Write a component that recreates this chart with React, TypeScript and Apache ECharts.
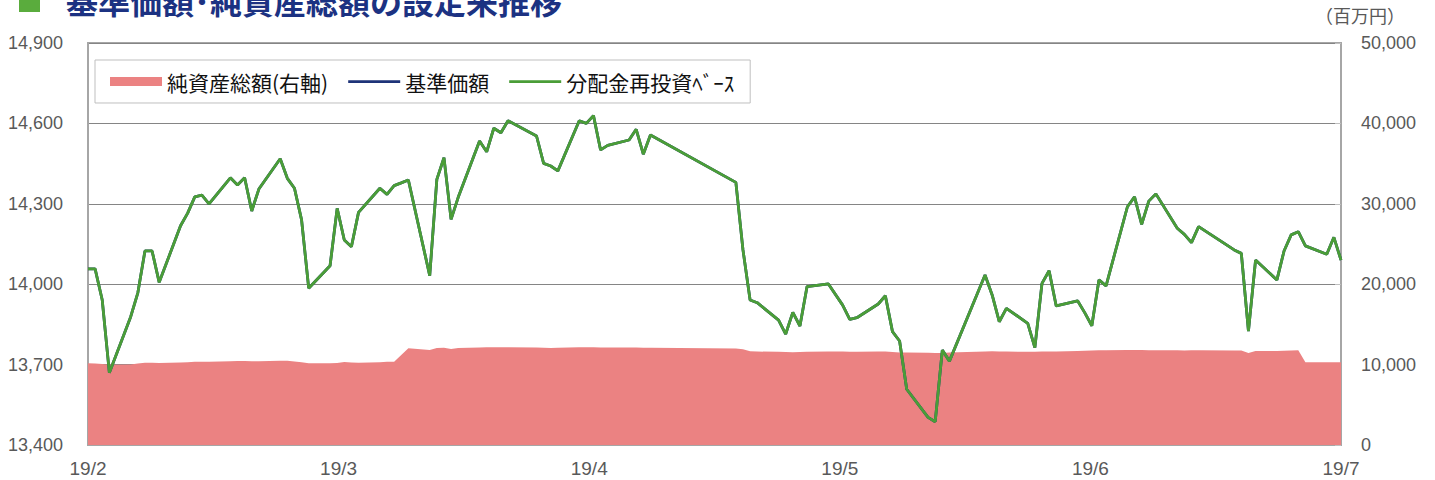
import React, { useEffect, useRef } from "react";
import * as echarts from "echarts";

// ---- data ----
const START_DATE = "2019-02-05";
const xTickLabels = ["19/2", "19/3", "19/4", "19/5", "19/6", "19/7"];
const leftTickMin = 13400;
const leftTickMax = 14900;
const rightTickMax = 50000;

const dates = [
  "2019-02-05","2019-02-06","2019-02-07","2019-02-08","2019-02-11","2019-02-12","2019-02-13","2019-02-14","2019-02-15",
  "2019-02-18","2019-02-19","2019-02-20","2019-02-21","2019-02-22","2019-02-25","2019-02-26","2019-02-27","2019-02-28",
  "2019-03-01","2019-03-04","2019-03-05","2019-03-06","2019-03-07","2019-03-08","2019-03-11","2019-03-12","2019-03-13",
  "2019-03-14","2019-03-15","2019-03-18","2019-03-19","2019-03-20","2019-03-21","2019-03-22","2019-03-25","2019-03-26",
  "2019-03-27","2019-03-28","2019-03-29","2019-04-01","2019-04-02","2019-04-03","2019-04-04","2019-04-05","2019-04-09",
  "2019-04-10","2019-04-11","2019-04-12","2019-04-15","2019-04-16","2019-04-17","2019-04-18","2019-04-19","2019-04-22",
  "2019-04-23","2019-04-24","2019-04-25","2019-05-07","2019-05-08","2019-05-09","2019-05-10","2019-05-13","2019-05-14",
  "2019-05-15","2019-05-16","2019-05-17","2019-05-20","2019-05-22","2019-05-23","2019-05-24","2019-05-27","2019-05-28",
  "2019-05-29","2019-05-30","2019-05-31","2019-06-03","2019-06-04","2019-06-05","2019-06-06","2019-06-11","2019-06-12",
  "2019-06-13","2019-06-14","2019-06-17","2019-06-18","2019-06-19","2019-06-20","2019-06-21","2019-06-24","2019-06-25",
  "2019-06-26","2019-06-27","2019-06-28","2019-07-01","2019-07-02","2019-07-03","2019-07-04","2019-07-05","2019-07-08",
  "2019-07-09","2019-07-10","2019-07-11","2019-07-16","2019-07-17","2019-07-18","2019-07-19","2019-07-22","2019-07-23",
  "2019-07-24","2019-07-25","2019-07-26","2019-07-29","2019-07-30","2019-07-31",
];
const END_DATE = "2019-07-31";

// 基準価額 (円)
const navValues = [
  14057,14057,13941,13670,13879,13968,14124,14124,14007,
  14218,14265,14326,14332,14300,14397,14370,14397,14273,
  14355,14468,14395,14358,14240,13985,14069,14283,14165,
  14140,14268,14358,14335,14368,14378,14389,14032,14391,
  14472,14242,14324,14534,14494,14582,14565,14610,14553,
  14451,14441,14423,14610,14600,14629,14501,14518,14538,
  14578,14485,14557,14380,14128,13941,13931,13866,13814,
  13895,13844,13991,14001,13922,13869,13875,13926,13957,
  13823,13788,13608,13503,13487,13754,13713,14034,13960,
  13860,13910,13854,13763,14003,14050,13919,13938,13894,
  13845,14016,13994,14289,14326,14223,14310,14337,14209,
  14186,14155,14215,14128,14115,13825,14090,14016,14124,
  14184,14196,14143,14112,14175,14090,
];
// 分配金再投資ベース (円) — no distributions, identical to 基準価額
const reinvestedValues = [
  14057,14057,13941,13670,13879,13968,14124,14124,14007,
  14218,14265,14326,14332,14300,14397,14370,14397,14273,
  14355,14468,14395,14358,14240,13985,14069,14283,14165,
  14140,14268,14358,14335,14368,14378,14389,14032,14391,
  14472,14242,14324,14534,14494,14582,14565,14610,14553,
  14451,14441,14423,14610,14600,14629,14501,14518,14538,
  14578,14485,14557,14380,14128,13941,13931,13866,13814,
  13895,13844,13991,14001,13922,13869,13875,13926,13957,
  13823,13788,13608,13503,13487,13754,13713,14034,13960,
  13860,13910,13854,13763,14003,14050,13919,13938,13894,
  13845,14016,13994,14289,14326,14223,14310,14337,14209,
  14186,14155,14215,14128,14115,13825,14090,14016,14124,
  14184,14196,14143,14112,14175,14090,
];
// 純資産総額 (百万円)
const netAssets = [
  10160,10150,10080,9990,10020,10150,10230,10240,10200,
  10250,10300,10350,10360,10370,10420,10440,10450,10420,
  10430,10480,10470,10400,10300,10160,10170,10200,10330,
  10250,10230,10300,10340,10360,11200,12030,11820,12050,
  12100,11950,12050,12120,12150,12160,12160,12160,12140,
  12100,12080,12100,12160,12170,12160,12120,12120,12130,
  12120,12110,12110,12000,11900,11650,11620,11600,11580,
  11550,11570,11600,11620,11620,11600,11600,11620,11620,
  11560,11520,11500,11460,11450,11430,11500,11620,11660,
  11620,11620,11600,11590,11620,11630,11640,11700,11720,
  11750,11780,11800,11820,11830,11810,11800,11800,11780,
  11760,11780,11770,11760,11740,11450,11700,11700,11720,
  11760,11780,10300,10290,10280,10300,
];

const DAY = 86400000;
const dayOffset = (d: string) => (Date.parse(d) - Date.parse(START_DATE)) / DAY;

// legend icon for line series: thin bar centred in a 52x9 box
const LINE_ICON =
  "path://M0,0h52v0.01h-52z M0,3.3h52v2.6h-52z M0,8.99h52v0.01h-52z";

export default function App() {
  const ref = useRef<HTMLDivElement>(null);
  useEffect(() => {
    if (!ref.current) return;
    const chart = echarts.init(ref.current, null, { renderer: "svg" });
    const xMax = dayOffset(END_DATE);
    const xInterval = xMax / (xTickLabels.length - 1);
    const pts = (vals: number[]) => dates.map((d, i) => [dayOffset(d), vals[i]]);
    const numFont = "Liberation Sans";
    const cjkFont = "Noto Sans CJK JP";
    chart.setOption({
      animation: false,
      grid: {
        left: 88, right: 94, top: 43, bottom: 35,
        show: true, borderColor: "#a6a6a6", borderWidth: 2, backgroundColor: "transparent",
      },
      legend: {
        left: 95, top: 60,
        padding: [11, 16, 11, 15],
        itemGap: 20,
        itemWidth: 52, itemHeight: 9,
        symbolKeepAspect: false,
        itemStyle: { borderWidth: 0 },
        borderColor: "#bfbfbf", borderWidth: 1, backgroundColor: "#ffffff",
        textStyle: { fontSize: 21, color: "#111", fontFamily: cjkFont },
        data: [
          { name: "純資産総額(右軸)", icon: "rect" },
          { name: "基準価額", icon: LINE_ICON },
          { name: "分配金再投資ﾍﾞｰｽ", icon: LINE_ICON },
        ],
      },
      xAxis: {
        type: "value",
        min: 0, max: xMax, interval: xInterval,
        axisLine: { show: true, lineStyle: { color: "#a6a6a6", width: 2 } },
        axisTick: { show: false },
        splitLine: { show: false },
        axisLabel: {
          margin: 14, color: "#595959", fontSize: 19, fontFamily: numFont,
          formatter: (v: number) => xTickLabels[Math.round(v / xInterval)] ?? "",
        },
      },
      yAxis: [
        {
          type: "value", position: "left",
          min: leftTickMin, max: leftTickMax, interval: 300,
          axisLine: { show: true, lineStyle: { color: "#a6a6a6", width: 2 } },
          axisTick: { show: false },
          splitLine: { show: true, lineStyle: { color: "#858585", width: 1 } },
          axisLabel: {
            margin: 25, color: "#595959", fontSize: 18, fontFamily: numFont,
            formatter: (v: number) => v.toLocaleString("en-US"),
          },
        },
        {
          type: "value", position: "right",
          min: 0, max: rightTickMax, interval: 10000,
          axisLine: { show: true, lineStyle: { color: "#a6a6a6", width: 2 } },
          axisTick: { show: true, inside: true, length: 6, lineStyle: { color: "#bfbfbf" } },
          splitLine: { show: false },
          axisLabel: {
            margin: 20, color: "#595959", fontSize: 18, fontFamily: numFont,
            formatter: (v: number) => v.toLocaleString("en-US"),
          },
        },
      ],
      graphic: [
        { type: "rect", shape: { x: 19, y: -9, width: 21, height: 21 }, style: { fill: "#5aac3d" } },
        {
          type: "text", x: 66, y: 0,
          style: {
            text: "基準価額･純資産総額の設定来推移",
            fontSize: 32, fontWeight: "bold", fontFamily: cjkFont,
            fill: "#1c3282", verticalAlign: "middle",
          },
        },
        {
          type: "text", x: 1315, y: 15,
          style: {
            text: "（百万円）", fontSize: 18, fontFamily: cjkFont,
            fill: "#595959", verticalAlign: "middle",
          },
        },
      ],
      series: [
        {
          name: "純資産総額(右軸)", type: "line", yAxisIndex: 1,
          data: pts(netAssets), symbol: "none",
          color: "#eb8282",
          lineStyle: { width: 0, color: "#eb8282" },
          areaStyle: { color: "#eb8282", opacity: 1 },
        },
        {
          name: "基準価額", type: "line", yAxisIndex: 0,
          data: pts(navValues), symbol: "none",
          color: "#1e3378",
          lineStyle: { width: 2.8, color: "#1e3378" },
        },
        {
          name: "分配金再投資ﾍﾞｰｽ", type: "line", yAxisIndex: 0,
          data: pts(reinvestedValues), symbol: "none",
          color: "#4a9d37",
          lineStyle: { width: 2.8, color: "#4a9d37" },
        },
      ],
    });
    return () => chart.dispose();
  }, []);
  return (
    <div
      ref={ref}
      style={{ position: "absolute", left: 0, top: 0, width: 1435, height: 480, background: "#fff" }}
    />
  );
}
